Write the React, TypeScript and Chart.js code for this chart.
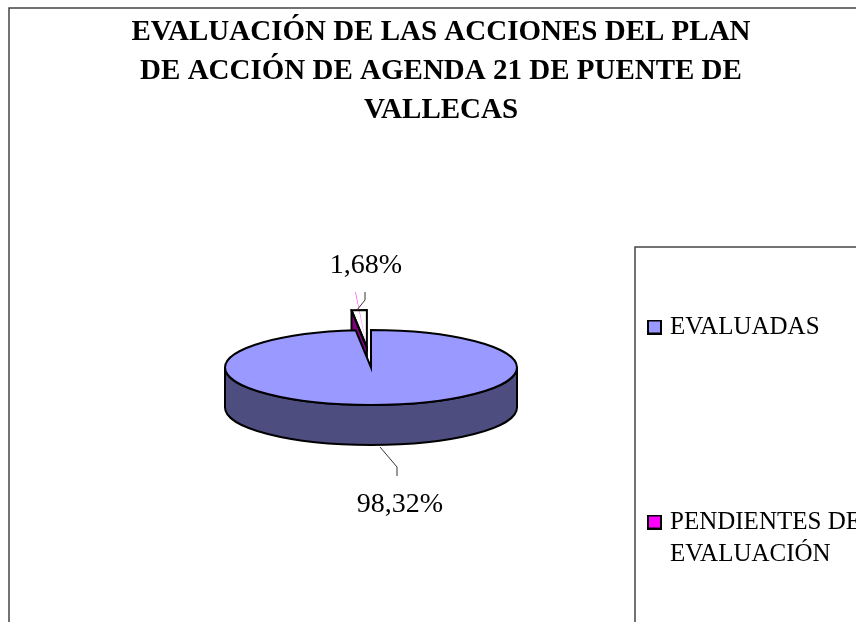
import React, { useEffect, useRef } from "react";
import { Chart, registerables } from "chart.js";

Chart.register(...registerables);

const categories = ["EVALUADAS", "PENDIENTES DE EVALUACIÓN"];
const legendLines = [["EVALUADAS"], ["PENDIENTES DE", "EVALUACIÓN"]];
const values = [98.32, 1.68];
const topColors = ["#9999FF", "#FF00FF"];
const sideColors = ["#4D4D80", "#800080"];
const titleLines = [
  "EVALUACIÓN DE LAS ACCIONES DEL PLAN",
  "DE ACCIÓN DE AGENDA 21 DE PUENTE DE",
  "VALLECAS",
];

const SERIF = "'Liberation Serif', 'Times New Roman', serif";
const CX = 371;
const CY = 367.5;
const RADIUS = 146;
const TILT = 37.5 / 146;
const DEPTH = 40;
const OFFSET = 312;

function swatch(color: string) {
  const c = document.createElement("canvas");
  c.width = 15;
  c.height = 15;
  const g = c.getContext("2d")!;
  g.fillStyle = color;
  g.fillRect(1, 1, 13, 13);
  g.strokeStyle = "#000";
  g.lineWidth = 2;
  g.strokeRect(1, 1, 13, 13);
  return c;
}

function geometry(arc: any) {
  const p = arc.getProps(["startAngle", "endAngle", "outerRadius"], true);
  const mid = (p.startAngle + p.endAngle) / 2;
  const off = (arc.options.offset || 0) / 4;
  const x = CX + Math.cos(mid) * off;
  const y = CY + Math.sin(mid) * off * TILT;
  return { x, y, r: p.outerRadius, ry: p.outerRadius * TILT, a0: p.startAngle, a1: p.endAngle };
}

const pie3d = {
  id: "pie3d",
  beforeDraw(chart: any) {
    const { ctx, width, height } = chart;
    ctx.save();
    ctx.fillStyle = "#fff";
    ctx.fillRect(0, 0, width, height);
    ctx.strokeStyle = "#444";
    ctx.lineWidth = 1.5;
    ctx.beginPath();
    ctx.moveTo(9, height);
    ctx.lineTo(9, 8);
    ctx.lineTo(width, 8);
    ctx.moveTo(635, height);
    ctx.lineTo(635, 247);
    ctx.lineTo(width, 247);
    ctx.stroke();
    ctx.restore();
  },
  afterLayout(chart: any) {
    const l = chart.legend;
    const pad = l.options.labels.padding;
    l.left = 651.5 - pad;
    l.top = 314.5 - pad;
    l.right = chart.width + 400;
    l.bottom = chart.height + 400;
  },
  beforeDatasetsDraw(chart: any) {
    const { ctx } = chart;
    const arcs = chart.getDatasetMeta(0).data;
    const main = geometry(arcs[0]);
    const wedge = geometry(arcs[1]);
    ctx.save();
    ctx.lineWidth = 2;
    ctx.strokeStyle = "#000";
    ctx.lineJoin = "round";
    // exposed radial wall of the pulled-out slice
    const qx = wedge.x + Math.cos(wedge.a0) * wedge.r;
    const qy = wedge.y + Math.sin(wedge.a0) * wedge.ry;
    ctx.beginPath();
    ctx.moveTo(qx, qy);
    ctx.lineTo(wedge.x, wedge.y);
    ctx.lineTo(wedge.x, wedge.y + DEPTH);
    ctx.lineTo(qx, qy + DEPTH);
    ctx.closePath();
    ctx.fillStyle = sideColors[1];
    ctx.fill();
    ctx.stroke();
    // front side of the main slice
    ctx.beginPath();
    ctx.ellipse(main.x, main.y, main.r, main.ry, 0, 0, Math.PI);
    ctx.lineTo(main.x - main.r, main.y + DEPTH);
    ctx.ellipse(main.x, main.y + DEPTH, main.r, main.ry, 0, Math.PI, 0, true);
    ctx.closePath();
    ctx.fillStyle = sideColors[0];
    ctx.fill();
    ctx.stroke();
    ctx.restore();
  },
  beforeDatasetDraw(chart: any) {
    const { ctx } = chart;
    const arc = chart.getDatasetMeta(0).data[0];
    ctx.save();
    ctx.translate(CX, CY);
    ctx.scale(1, TILT);
    ctx.translate(-arc.x, -arc.y);
  },
  afterDatasetDraw(chart: any) {
    chart.ctx.restore();
  },
  afterDatasetsDraw(chart: any) {
    const { ctx } = chart;
    const arcs = chart.getDatasetMeta(0).data;
    ctx.save();
    ctx.lineWidth = 2;
    ctx.strokeStyle = "#000";
    ctx.lineJoin = "miter";
    arcs.forEach((arc: any) => {
      const g = geometry(arc);
      ctx.beginPath();
      ctx.moveTo(g.x, g.y);
      ctx.ellipse(g.x, g.y, g.r, g.ry, 0, g.a0, g.a1);
      ctx.closePath();
      ctx.stroke();
    });
    // leader lines
    ctx.strokeStyle = "#333";
    ctx.lineWidth = 1;
    ctx.beginPath();
    ctx.moveTo(357, 310);
    ctx.lineTo(365, 300);
    ctx.lineTo(365, 292);
    ctx.moveTo(380, 447);
    ctx.lineTo(397, 467);
    ctx.lineTo(397, 476);
    ctx.stroke();
    // percentage labels
    ctx.fillStyle = "#000";
    ctx.font = `28px ${SERIF}`;
    ctx.textAlign = "center";
    ctx.textBaseline = "middle";
    const fmt = (v: number) => v.toFixed(2).replace(".", ",") + "%";
    ctx.fillText(fmt(values[1]), 366, 266);
    ctx.fillText(fmt(values[0]), 400, 505);
    ctx.restore();
  },
};

export default function App() {
  const ref = useRef<HTMLCanvasElement>(null);
  useEffect(() => {
    document.body.style.margin = "0";
    document.body.style.overflow = "hidden";
    const chart = new Chart(ref.current!, {
      type: "pie",
      data: {
        labels: categories,
        datasets: [
          {
            data: values,
            backgroundColor: topColors,
            borderWidth: 0,
            offset: [0, OFFSET],
            clip: false,
          } as any,
        ],
      },
      options: {
        animation: false,
        responsive: false,
        radius: RADIUS,
        layout: { padding: { left: 26 } },
        plugins: {
          tooltip: { enabled: false },
          title: {
            display: true,
            text: titleLines,
            color: "#000",
            font: { family: SERIF, size: 29, weight: "bold", lineHeight: 39 / 29 },
            padding: { top: 13.5, bottom: 0 },
          },
          legend: {
            position: "right",
            align: "start",
            labels: {
              color: "#000",
              font: { family: SERIF, size: 25, lineHeight: 32 / 25 },
              padding: 163,
              usePointStyle: true,
              pointStyleWidth: 6,
              generateLabels: () =>
                categories.map((_, i) => ({
                  text: legendLines[i],
                  pointStyle: swatch(topColors[i]),
                  fillStyle: topColors[i],
                  strokeStyle: "#000",
                  lineWidth: 2,
                  index: i,
                })) as any,
            },
          },
        },
      } as any,
      plugins: [pie3d as any],
    });
    return () => chart.destroy();
  }, []);
  return (
    <div style={{ position: "fixed", left: 0, top: 0, width: 856, height: 622 }}>
      <canvas ref={ref} width={856} height={622} style={{ display: "block" }} />
    </div>
  );
}
